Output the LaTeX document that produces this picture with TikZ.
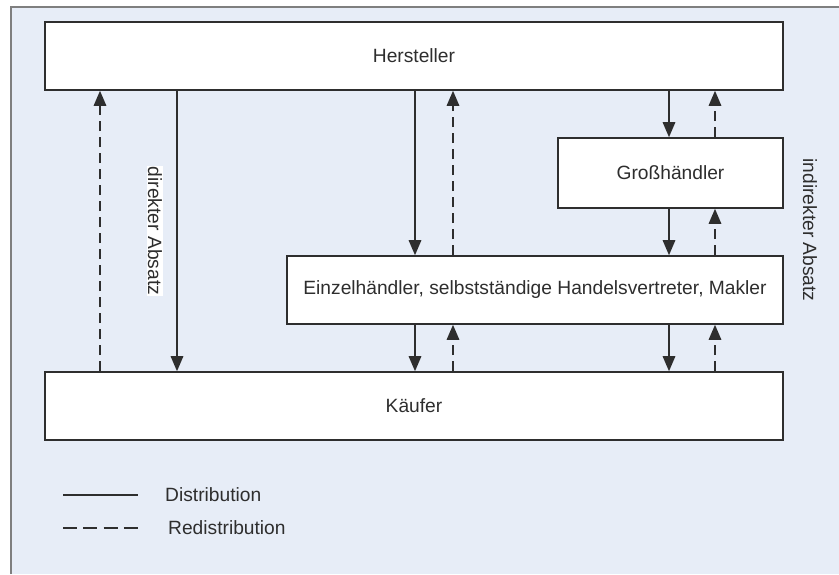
\documentclass[tikz,border=0pt]{standalone}
\usepackage{fontspec}
\setmainfont{Liberation Sans}
\usetikzlibrary{arrows.meta}
\definecolor{panelbg}{HTML}{E7EDF7}
\definecolor{framegray}{HTML}{7F7F7F}
\definecolor{inkgray}{HTML}{2E2E2E}
\tikzset{
  txt/.style={text=inkgray, font=\fontsize{19.2}{23}\selectfont},
  stage/.style={txt, draw=inkgray, line width=1.6pt, fill=white, inner sep=0pt},
  flow/.style={draw=inkgray, line width=1.5pt,
    -{Triangle[length=15pt,width=12.5pt]}},
  backflow/.style={flow, dash pattern=on 10pt off 6pt},
  sidelabel/.style={txt, rotate=-90, inner sep=1pt},
  legendtext/.style={txt, anchor=west, inner sep=0pt}
}
\begin{document}
\begin{tikzpicture}[x=1pt, y=-1pt]
  \useasboundingbox (0,0) rectangle (839,574);
  % panel background with its left and top edge
  \fill[panelbg] (11,7) rectangle (839,574);
  \draw[framegray, line width=2.5pt] (11,574) -- (11,7) -- (839,7);

  % stages of the channel
  \node[stage, minimum width=738pt, minimum height=68pt] (her) at (414,56) {Hersteller};
  \node[stage, minimum width=225pt, minimum height=70pt] (gh) at (670.5,173) {Großhändler};
  \node[stage, minimum width=496pt, minimum height=68pt] (ez) at (535,290)
    {Einzelhändler, selbstständige Handelsvertreter, Makler};
  \node[stage, minimum width=738pt, minimum height=68pt] (kf) at (414,406) {Käufer};

  % columns of the connectors
  \coordinate (c1) at (100,0);
  \coordinate (c2) at (177,0);
  \coordinate (c3) at (415,0);
  \coordinate (c4) at (453,0);
  \coordinate (c5) at (669,0);
  \coordinate (c6) at (715,0);

  % direct sale
  \draw[backflow] (kf.north -| c1) -- (her.south -| c1);
  \draw[flow] (her.south -| c2) -- (kf.north -| c2);
  \node[sidelabel, fill=white] (dir) at (155,231) {direkter Absatz};

  % via retailers
  \draw[flow] (her.south -| c3) -- (ez.north -| c3);
  \draw[backflow] (ez.north -| c4) -- (her.south -| c4);
  \draw[flow] (ez.south -| c3) -- (kf.north -| c3);
  \draw[backflow] (kf.north -| c4) -- (ez.south -| c4);

  % via wholesalers
  \draw[flow] (her.south -| c5) -- (gh.north -| c5);
  \draw[backflow] (gh.north -| c6) -- (her.south -| c6);
  \draw[flow] (gh.south -| c5) -- (ez.north -| c5);
  \draw[backflow] (ez.north -| c6) -- (gh.south -| c6);
  \draw[flow] (ez.south -| c5) -- (kf.north -| c5);
  \draw[backflow] (kf.north -| c6) -- (ez.south -| c6);
  \node[sidelabel] (ind) at (810,230) {indirekter Absatz};

  % legend
  \coordinate (l1a) at (63,495);
  \coordinate (l1b) at (138,495);
  \coordinate (l2a) at (63,528);
  \coordinate (l2b) at (138,528);
  \draw[inkgray, line width=1.8pt] (l1a) -- (l1b);
  \draw[inkgray, line width=1.8pt, dash pattern=on 14pt off 6.3pt] (l2a) -- (l2b);
  \node[legendtext] (ld) at (165,495) {Distribution};
  \node[legendtext] (lr) at (168,528) {Redistribution};
\end{tikzpicture}
\end{document}
